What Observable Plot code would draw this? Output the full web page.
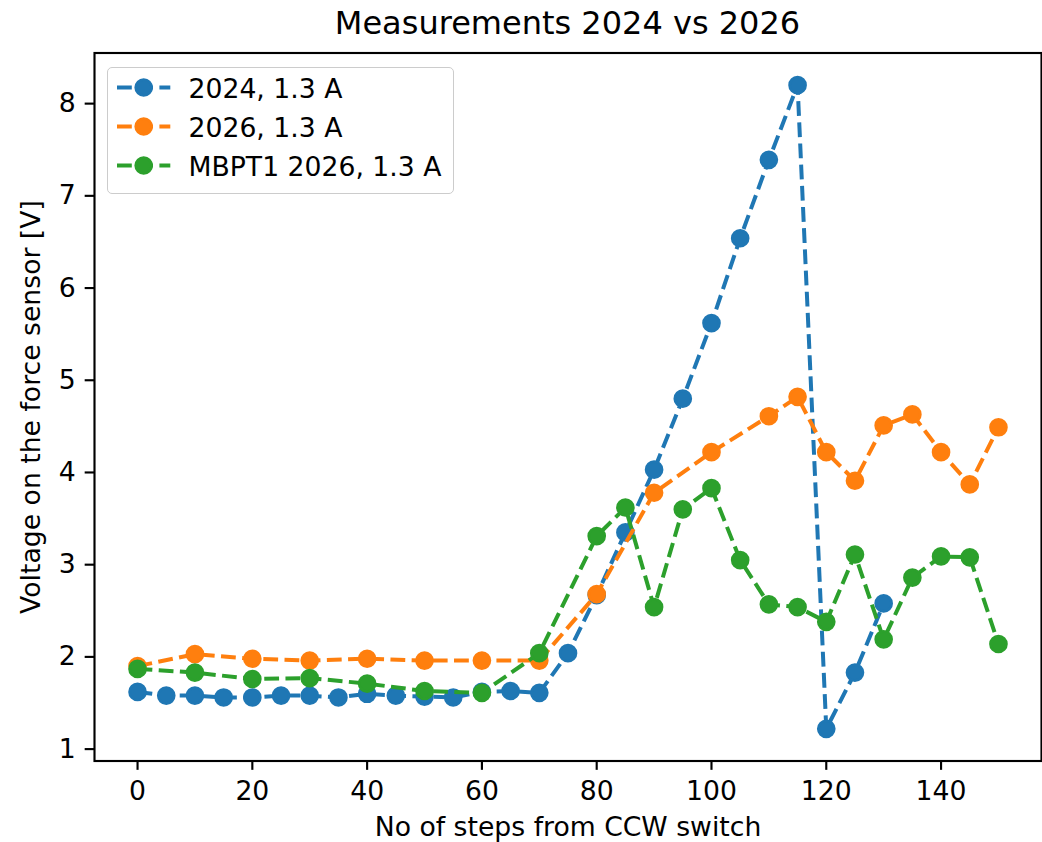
<!DOCTYPE html>
<html>
<head>
<meta charset="utf-8">
<script src="https://cdn.jsdelivr.net/npm/d3@7"></script>
<script src="https://cdn.jsdelivr.net/npm/@observablehq/plot@0.6"></script>
<style>
  body { margin: 0; background: #fff; font-family: "DejaVu Sans", sans-serif; color: #000; }
  #wrap { position: relative; width: 1042px; height: 842px; overflow: hidden; background: #fff; }
  #title { height: 44px; width: 947px; padding-left: 94px; text-align: center; font-size: 32px; line-height: 46px; white-space: nowrap; overflow: visible; }
  #legend { position: absolute; left: 107px; top: 66.5px; width: 347px; height: 127.5px; box-sizing: border-box;
            border: 1.5px solid #cccccc; border-radius: 5px; background: rgba(255,255,255,0.8); }
  .row { position: absolute; left: 0; height: 39px; width: 100%; }
  .row svg { position: absolute; left: 8.5px; top: 0; }
  .row span { position: absolute; left: 80.5px; top: 0; font-size: 26.67px; line-height: 39px; white-space: nowrap; }
</style>
</head>
<body>
<div id="wrap">
  <div id="title">Measurements 2024 vs 2026</div>
  <div id="chart"></div>
  <div id="legend"></div>
</div>
<script>
// ---- data ----
const seriesNames = ["2024, 1.3 A", "2026, 1.3 A", "MBPT1 2026, 1.3 A"];
const seriesColors = ["#1f77b4", "#ff7f0e", "#2ca02c"];

const steps2024 = [0, 5, 10, 15, 20, 25, 30, 35, 40, 45, 50, 55, 60, 65, 70, 75, 80, 85, 90, 95, 100, 105, 110, 115, 120, 125, 130];
const volts2024 = [1.62, 1.58, 1.58, 1.56, 1.56, 1.58, 1.58, 1.56, 1.60, 1.58, 1.57, 1.56, 1.62, 1.63, 1.61, 2.04, 2.67, 3.35, 4.03, 4.80, 5.62, 6.54, 7.39, 8.20, 1.22, 1.83, 2.58];

const steps2026 = [0, 10, 20, 30, 40, 50, 60, 70, 80, 90, 100, 110, 115, 120, 125, 130, 135, 140, 145, 150];
const volts2026 = [1.90, 2.03, 1.98, 1.96, 1.98, 1.96, 1.96, 1.96, 2.68, 3.78, 4.22, 4.61, 4.82, 4.22, 3.91, 4.51, 4.63, 4.22, 3.87, 4.49];

const stepsMBPT1 = [0, 10, 20, 30, 40, 50, 60, 70, 80, 85, 90, 95, 100, 105, 110, 115, 120, 125, 130, 135, 140, 145, 150];
const voltsMBPT1 = [1.87, 1.83, 1.76, 1.77, 1.71, 1.63, 1.61, 2.04, 3.31, 3.62, 2.54, 3.60, 3.83, 3.05, 2.57, 2.54, 2.38, 3.11, 2.19, 2.86, 3.09, 3.08, 2.14];

const xTicks = [0, 20, 40, 60, 80, 100, 120, 140];
const yTicks = [1, 2, 3, 4, 5, 6, 7, 8];

const titleText = "Measurements 2024 vs 2026";
const xLabel = "No of steps from CCW switch";
const yLabel = "Voltage on the force sensor [V]";

// ---- build table ----
const stepsList = [steps2024, steps2026, stepsMBPT1];
const voltsList = [volts2024, volts2026, voltsMBPT1];
const rows = seriesNames.flatMap((name, k) => stepsList[k].map((x, i) => ({series: name, x, y: voltsList[k][i]})));

function padded(ext) { const r = ext[1] - ext[0]; return [ext[0] - 0.05 * r, ext[1] + 0.05 * r]; }
const xDomain = padded(d3.extent(rows, d => d.x));
const yDomain = padded(d3.extent(rows, d => d.y));

const pt = 192 / 72; // px per point
const lineW = 1.5 * pt;
const dash = `${3.7 * lineW},${1.6 * lineW}`;

const marks = [];
seriesNames.forEach(name => {
  const sub = rows.filter(d => d.series === name);
  marks.push(Plot.line(sub, {x: "x", y: "y", stroke: "series", strokeWidth: lineW, strokeDasharray: dash,
                             strokeLinejoin: "round", strokeLinecap: "butt"}));
  marks.push(Plot.dot(sub, {x: "x", y: "y", r: 3 * pt, fill: "series", stroke: "series", strokeWidth: pt}));
});
marks.push(Plot.frame({stroke: "black", strokeWidth: 0.8 * pt}));
marks.push(Plot.axisX({ticks: xTicks, tickSize: 3.5 * pt, tickPadding: 3.5 * pt + 1, strokeWidth: 0.8 * pt,
                       label: xLabel, labelAnchor: "center", labelArrow: "none", labelOffset: 74.5}));
marks.push(Plot.axisY({ticks: yTicks, tickSize: 3.5 * pt, tickPadding: 3.5 * pt, strokeWidth: 0.8 * pt,
                       label: yLabel, labelAnchor: "center", labelArrow: "none", labelOffset: 73}));

const chart = Plot.plot({
  width: 1042,
  height: 798,
  marginTop: 8.5,
  marginBottom: 81.5,
  marginLeft: 94,
  marginRight: 1,
  x: {domain: xDomain},
  y: {domain: yDomain},
  color: {domain: seriesNames, range: seriesColors},
  style: {fontFamily: "DejaVu Sans", fontSize: "26.67px", color: "black", background: "white", overflow: "visible"},
  marks
});
document.getElementById("chart").appendChild(chart);
document.getElementById("title").textContent = titleText;

// ---- legend ----
const legend = document.getElementById("legend");
seriesNames.forEach((name, i) => {
  const row = document.createElement("div");
  row.className = "row";
  row.style.top = (1.2 + i * 39.2) + "px";
  const ns = "http://www.w3.org/2000/svg";
  const svg = document.createElementNS(ns, "svg");
  svg.setAttribute("width", 54); svg.setAttribute("height", 39);
  const ln = document.createElementNS(ns, "line");
  ln.setAttribute("x1", 0); ln.setAttribute("x2", 53.3); ln.setAttribute("y1", 18.5); ln.setAttribute("y2", 18.5);
  ln.setAttribute("stroke", seriesColors[i]); ln.setAttribute("stroke-width", lineW);
  ln.setAttribute("stroke-dasharray", dash);
  const c = document.createElementNS(ns, "circle");
  c.setAttribute("cx", 26.7); c.setAttribute("cy", 18.5); c.setAttribute("r", 3 * pt);
  c.setAttribute("fill", seriesColors[i]); c.setAttribute("stroke", seriesColors[i]); c.setAttribute("stroke-width", pt);
  svg.appendChild(ln); svg.appendChild(c);
  const span = document.createElement("span");
  span.textContent = name;
  row.appendChild(svg); row.appendChild(span);
  legend.appendChild(row);
});
</script>
</body>
</html>
